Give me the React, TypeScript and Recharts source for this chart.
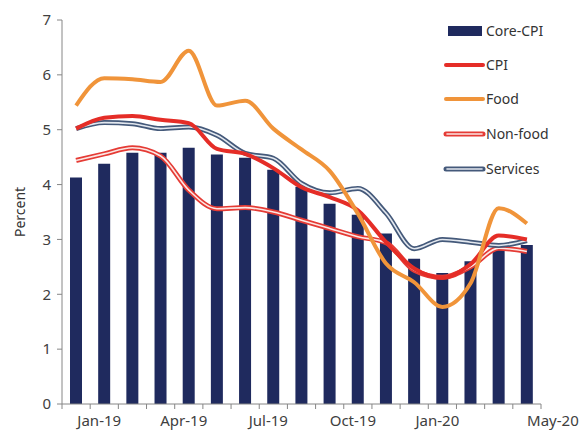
import React from 'react';
import { ComposedChart, Bar, Line, XAxis, YAxis, Label } from 'recharts';

// ─── Data ─────────────────────────────────────────────────────────────────────
const months = [
  'Dec-18', 'Jan-19', 'Feb-19', 'Mar-19', 'Apr-19', 'May-19', 'Jun-19', 'Jul-19', 'Aug-19',
  'Sep-19', 'Oct-19', 'Nov-19', 'Dec-19', 'Jan-20', 'Feb-20', 'Mar-20', 'Apr-20',
];
const shownLabels = ['Jan-19', 'Apr-19', 'Jul-19', 'Oct-19', 'Jan-20'];
const endLabel = 'May-20';
const yTicks = [0, 1, 2, 3, 4, 5, 6, 7];

const coreCpi = [4.13, 4.38, 4.58, 4.58, 4.67, 4.55, 4.49, 4.27, 3.96, 3.65, 3.45, 3.11, 2.65, 2.39, 2.6, 2.86, 2.9];
const cpi = [5.02, 5.22, 5.25, 5.18, 5.12, 4.65, 4.56, 4.3, 3.95, 3.77, 3.53, 2.95, 2.47, 2.3, 2.55, 3.07, 3.0];
const food = [5.44, 5.94, 5.92, 5.87, 6.44, 5.44, 5.53, 5.02, 4.64, 4.25, 3.47, 2.56, 2.22, 1.77, 2.2, 3.57, 3.29];
const nonFood = [4.44, 4.56, 4.67, 4.52, 3.9, 3.56, 3.58, 3.5, 3.35, 3.2, 3.05, 2.94, 2.44, 2.31, 2.5, 2.84, 2.78];
const services = [5.02, 5.13, 5.11, 5.02, 5.05, 4.9, 4.57, 4.48, 4.02, 3.85, 3.93, 3.48, 2.83, 3.0, 2.95, 2.89, 2.98];

const data = months.map((m, i) => ({
  month: m, core: coreCpi[i], cpi: cpi[i], food: food[i], nonFood: nonFood[i], services: services[i],
}));

// ─── Style ────────────────────────────────────────────────────────────────────
const W = 584;
const H = 438;
const M = { top: 20, right: 43, bottom: 0, left: 0 };
const Y_W = 62;
const X_H = 34;
const BAND = (W - M.left - M.right - Y_W) / months.length;
const FONT = '"Noto Sans", sans-serif';
const AXIS = '#868686';
const TXT = '#404040';
const NAVY = '#1F2A5E';
const RED = '#E52D27';
const ORANGE = '#F0943A';
const SERV = '#44597A';
const SERV_IN = '#E3E8EF';
const NF = '#E53B35';
const NF_IN = '#FCE6E3';

// ticks between categories, like excel
// eslint-disable-next-line @typescript-eslint/no-explicit-any
function XTick(props: any) {
  const { x, y, payload, index } = props;
  const last = index === months.length - 1;
  const show = shownLabels.includes(payload.value);
  return (
    <g>
      <line x1={x - BAND / 2} x2={x - BAND / 2} y1={y} y2={y + 5} stroke={AXIS} />
      {last && <line x1={x + BAND / 2} x2={x + BAND / 2} y1={y} y2={y + 5} stroke={AXIS} />}
      {show && (
        <text x={x - 5} y={y + 22} textAnchor="middle" fontSize={15} fill={TXT} fontFamily={FONT}>
          {payload.value}
        </text>
      )}
      {last && (
        <text x={x + 26} y={y + 22} textAnchor="middle" fontSize={15} fill={TXT} fontFamily={FONT}>
          {endLabel}
        </text>
      )}
    </g>
  );
}

const legendItems = [
  { name: 'Core-CPI', kind: 'bar', color: NAVY },
  { name: 'CPI', kind: 'line', color: RED },
  { name: 'Food', kind: 'line', color: ORANGE },
  { name: 'Non-food', kind: 'double', color: NF, inner: NF_IN },
  { name: 'Services', kind: 'double', color: SERV, inner: SERV_IN },
];

function LegendBox() {
  const rowY = [13, 47, 81, 116, 151];
  return (
    <svg width={140} height={170} style={{ position: 'absolute', left: 440, top: 18 }}>
      {legendItems.map((it, i) => {
        const cy = rowY[i];
        return (
          <g key={it.name}>
            {it.kind === 'bar' && <rect x={8} y={cy - 5} width={34} height={10} fill={it.color} />}
            {it.kind === 'line' && <line x1={6} x2={43} y1={cy} y2={cy} stroke={it.color} strokeWidth={4} strokeLinecap="round" />}
            {it.kind === 'double' && (
              <>
                <line x1={6} x2={43} y1={cy} y2={cy} stroke={it.color} strokeWidth={5} strokeLinecap="round" />
                <line x1={7} x2={42} y1={cy} y2={cy} stroke={it.inner} strokeWidth={1.6} strokeLinecap="round" />
              </>
            )}
            <text x={46} y={cy + 5} fontSize={14} fill="#333" fontFamily={FONT}>{it.name}</text>
          </g>
        );
      })}
    </svg>
  );
}

export default function App() {
  return (
    <div style={{ position: 'absolute', left: 0, top: 0, width: W, height: H, background: '#fff' }}>
      <ComposedChart width={W} height={H} data={data} margin={M} barSize={12}>
        <XAxis
          dataKey="month" interval={0} height={X_H} tick={<XTick />} tickLine={false}
          tickSize={0} tickMargin={0} axisLine={{ stroke: AXIS }}
        />
        <YAxis
          width={Y_W} domain={[0, 7]} ticks={yTicks} interval={0}
          tick={{ fontSize: 15, fill: TXT, fontFamily: FONT }}
          tickLine={{ stroke: AXIS }} tickSize={5} tickMargin={6} axisLine={{ stroke: AXIS }}
        >
          <Label
            // eslint-disable-next-line @typescript-eslint/no-explicit-any
            content={({ viewBox }: any) => {
              const cx = viewBox.x + 19;
              const cy = viewBox.y + viewBox.height / 2;
              return (
                <text x={cx} y={cy} transform={`rotate(-90 ${cx} ${cy})`} textAnchor="middle"
                  dominantBaseline="central" fontSize={14} fill="#333" fontFamily={FONT}>
                  Percent
                </text>
              );
            }}
          />
        </YAxis>
        <Bar dataKey="core" fill={NAVY} isAnimationActive={false} name="Core-CPI" />
        <Line type="monotone" dataKey="nonFood" stroke={NF} strokeWidth={5} dot={false} isAnimationActive={false} />
        <Line type="monotone" dataKey="nonFood" stroke={NF_IN} strokeWidth={1.6} dot={false} isAnimationActive={false} />
        <Line type="monotone" dataKey="services" stroke={SERV} strokeWidth={5} dot={false} isAnimationActive={false} />
        <Line type="monotone" dataKey="services" stroke={SERV_IN} strokeWidth={1.6} dot={false} isAnimationActive={false} />
        <Line type="monotone" dataKey="cpi" stroke={RED} strokeWidth={4} dot={false} isAnimationActive={false} name="CPI" />
        <Line type="monotone" dataKey="food" stroke={ORANGE} strokeWidth={4} dot={false} isAnimationActive={false} name="Food" />
      </ComposedChart>
      <LegendBox />
    </div>
  );
}
